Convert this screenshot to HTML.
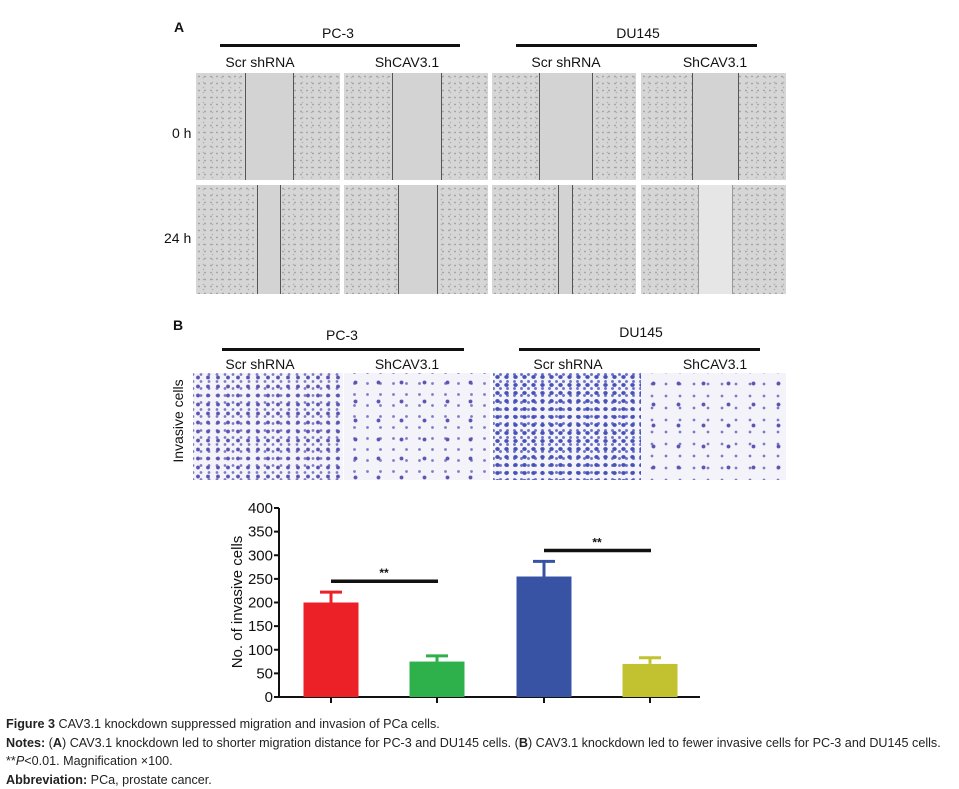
<!DOCTYPE html>
<html><head><meta charset="utf-8"><style>
body{margin:0;width:959px;height:789px;background:#fff;position:relative;overflow:hidden;font-family:"Liberation Sans",sans-serif;}
.t{position:absolute;white-space:nowrap;color:#111;}
.c{transform:translateX(-50%);}
.bar{position:absolute;height:3px;background:#111;}
.img{position:absolute;background:#d6d6d6;background-image:radial-gradient(circle,#9a9a9a 0.6px,transparent 1.1px),radial-gradient(circle,#b0b0b0 0.5px,transparent 1px);background-size:6px 7px,9px 5px;background-position:0 0,3px 2px;}
.gap{position:absolute;top:0;bottom:0;background:#d3d3d3;border-left:1px solid #555;border-right:1px solid #555;}
.inv{position:absolute;background:#f4f3fa;background-image:radial-gradient(circle,#5a55b0 1.6px,transparent 2.3px),radial-gradient(circle,#7f7ac6 1.1px,transparent 1.7px);background-size:13px 11px,9px 10px;background-position:0 0,4px 5px;}
.cap{position:absolute;left:6px;font-size:12.6px;color:#222;white-space:nowrap;}
</style></head><body>
<div class="t" style="left:174px;top:19px;font-weight:bold;font-size:14px">A</div>
<div class="t c" style="left:338px;top:25px;font-size:14px">PC-3</div>
<div class="bar" style="left:220px;top:44px;width:240px"></div>
<div class="t c" style="left:638px;top:25px;font-size:14px">DU145</div>
<div class="bar" style="left:516px;top:44px;width:241px"></div>
<div class="t c" style="left:260px;top:54px;font-size:14px">Scr shRNA</div>
<div class="t c" style="left:407px;top:54px;font-size:14px">ShCAV3.1</div>
<div class="t c" style="left:566px;top:54px;font-size:14px">Scr shRNA</div>
<div class="t c" style="left:715px;top:54px;font-size:14px">ShCAV3.1</div>
<div class="t" style="left:172px;top:125px;font-size:14px">0 h</div>
<div class="t" style="left:164px;top:230px;font-size:14px">24 h</div>

<div class="img" style="left:196px;top:73px;width:144px;height:107px"><div class="gap" style="left:49px;width:47px"></div></div>
<div class="img" style="left:344px;top:73px;width:144px;height:107px"><div class="gap" style="left:48px;width:48px"></div></div>
<div class="img" style="left:492px;top:73px;width:144px;height:107px"><div class="gap" style="left:47px;width:52px"></div></div>
<div class="img" style="left:641px;top:73px;width:145px;height:107px"><div class="gap" style="left:51px;width:45px"></div></div>
<div class="img" style="left:196px;top:185px;width:144px;height:109px"><div class="gap" style="left:61px;width:22px"></div></div>
<div class="img" style="left:344px;top:185px;width:144px;height:109px"><div class="gap" style="left:54px;width:38px"></div></div>
<div class="img" style="left:492px;top:185px;width:144px;height:109px"><div class="gap" style="left:66px;width:13px"></div></div>
<div class="img" style="left:641px;top:185px;width:145px;height:109px"><div class="gap" style="left:57px;width:33px;background:#e6e6e6;border-color:#999"></div></div>

<div class="t" style="left:173px;top:317px;font-weight:bold;font-size:14px">B</div>
<div class="t c" style="left:342px;top:327px;font-size:14px">PC-3</div>
<div class="bar" style="left:222px;top:348px;width:242px"></div>
<div class="t c" style="left:641px;top:324px;font-size:14px">DU145</div>
<div class="bar" style="left:519px;top:348px;width:241px"></div>
<div class="t c" style="left:260px;top:356px;font-size:14px">Scr shRNA</div>
<div class="t c" style="left:407px;top:356px;font-size:14px">ShCAV3.1</div>
<div class="t c" style="left:568px;top:356px;font-size:14px">Scr shRNA</div>
<div class="t c" style="left:715px;top:356px;font-size:14px">ShCAV3.1</div>
<div class="t" style="left:178px;top:421px;font-size:14px;transform:translate(-50%,-50%) rotate(-90deg)">Invasive cells</div>
<div class="inv" style="left:193px;top:373px;width:150px;height:107px;background-size:10px 9px,8px 7px"></div>
<div class="inv" style="left:344px;top:373px;width:146px;height:107px;background-size:23px 19px,13px 11px"></div>
<div class="inv" style="left:493px;top:373px;width:148px;height:107px;background-image:radial-gradient(ellipse,#4652b5 1.8px,transparent 2.6px),radial-gradient(circle,#6a74c8 1.2px,transparent 1.8px);background-size:9px 8px,7px 7px"></div>
<div class="inv" style="left:641px;top:373px;width:145px;height:107px;background-size:25px 21px,14px 12px"></div>

<svg id="chart" style="position:absolute;left:0;top:0" width="959" height="789"></svg>

<div class="cap" style="top:717px"><b>Figure 3</b> CAV3.1 knockdown suppressed migration and invasion of PCa cells.</div>
<div class="cap" style="top:736px"><b>Notes:</b> (<b>A</b>) CAV3.1 knockdown led to shorter migration distance for PC-3 and DU145 cells. (<b>B</b>) CAV3.1 knockdown led to fewer invasive cells for PC-3 and DU145 cells.</div>
<div class="cap" style="top:754px">**<i>P</i>&lt;0.01. Magnification ×100.</div>
<div class="cap" style="top:773px"><b>Abbreviation:</b> PCa, prostate cancer.</div>

<script>
const categories=["PC-3 Scr shRNA","PC-3 ShCAV3.1","DU145 Scr shRNA","DU145 ShCAV3.1"];
const values=[200,75,255,70];
const errors=[22,12,32,13];
const colors=["#ec2027","#2eb04a","#3953a4","#c2c231"];
const yTicks=[0,50,100,150,200,250,300,350,400];
const sigPairs=[[0,1,245],[2,3,310]];
const NS="http://www.w3.org/2000/svg";
const svg=document.getElementById('chart');
const x0=279,x1=700,yBase=697,yTop=508,yMax=400;
const y=v=>yBase-(v/yMax)*(yBase-yTop);
const step=106,first=331,bw=55;
const xc=i=>first+i*step+ (i>=2?1:0);
function mk(t,a){const e=document.createElementNS(NS,t);for(const k in a)e.setAttribute(k,a[k]);svg.appendChild(e);return e;}
let ax=mk('line',{x1:x0,y1:yTop,x2:x0,y2:yBase,stroke:'#111','stroke-width':2});


let bx=mk('line',{x1:x0-1,y1:yBase,x2:x1,y2:yBase,stroke:'#111','stroke-width':2});


yTicks.forEach(v=>{
  const tk=mk('line',{x1:x0-5,y1:y(v),x2:x0,y2:y(v),stroke:'#111','stroke-width':2});
  
  
  const tl=mk('text',{x:x0-6,y:y(v)+5,'text-anchor':'end','font-size':15,'font-family':'Liberation Sans, sans-serif',fill:'#111'});
  tl.textContent=v;
  
  
});
const yt=mk('text',{x:0,y:0,'text-anchor':'middle','font-size':15,'font-family':'Liberation Sans, sans-serif',fill:'#111',transform:'translate(242,602) rotate(-90)'});
yt.textContent='No. of invasive cells';


values.forEach((v,i)=>{
  const c=xc(i);
  const r=mk('rect',{x:c-bw/2,y:y(v),width:bw,height:yBase-y(v),fill:colors[i]});
  
  
  const e=y(v+errors[i]);
  const el=mk('path',{d:`M${c} ${y(v)}V${e}M${c-11} ${e}H${c+11}`,stroke:colors[i],'stroke-width':3,fill:'none'});
  
  
  const xt=mk('line',{x1:c,y1:yBase,x2:c,y2:yBase+6,stroke:'#111','stroke-width':2});
  
  
});
sigPairs.forEach(p=>{
  const yy=y(p[2]);
  const l=mk('line',{x1:xc(p[0]),y1:yy,x2:xc(p[1])+1,y2:yy,stroke:'#111','stroke-width':3.5});
  
  
  const s=mk('text',{x:(xc(p[0])+xc(p[1]))/2,y:yy-4,'text-anchor':'middle','font-size':12,'font-weight':'bold','font-family':'Liberation Sans, sans-serif',fill:'#111'});
  s.textContent='**';
  
  
});
</script>
</body></html>
